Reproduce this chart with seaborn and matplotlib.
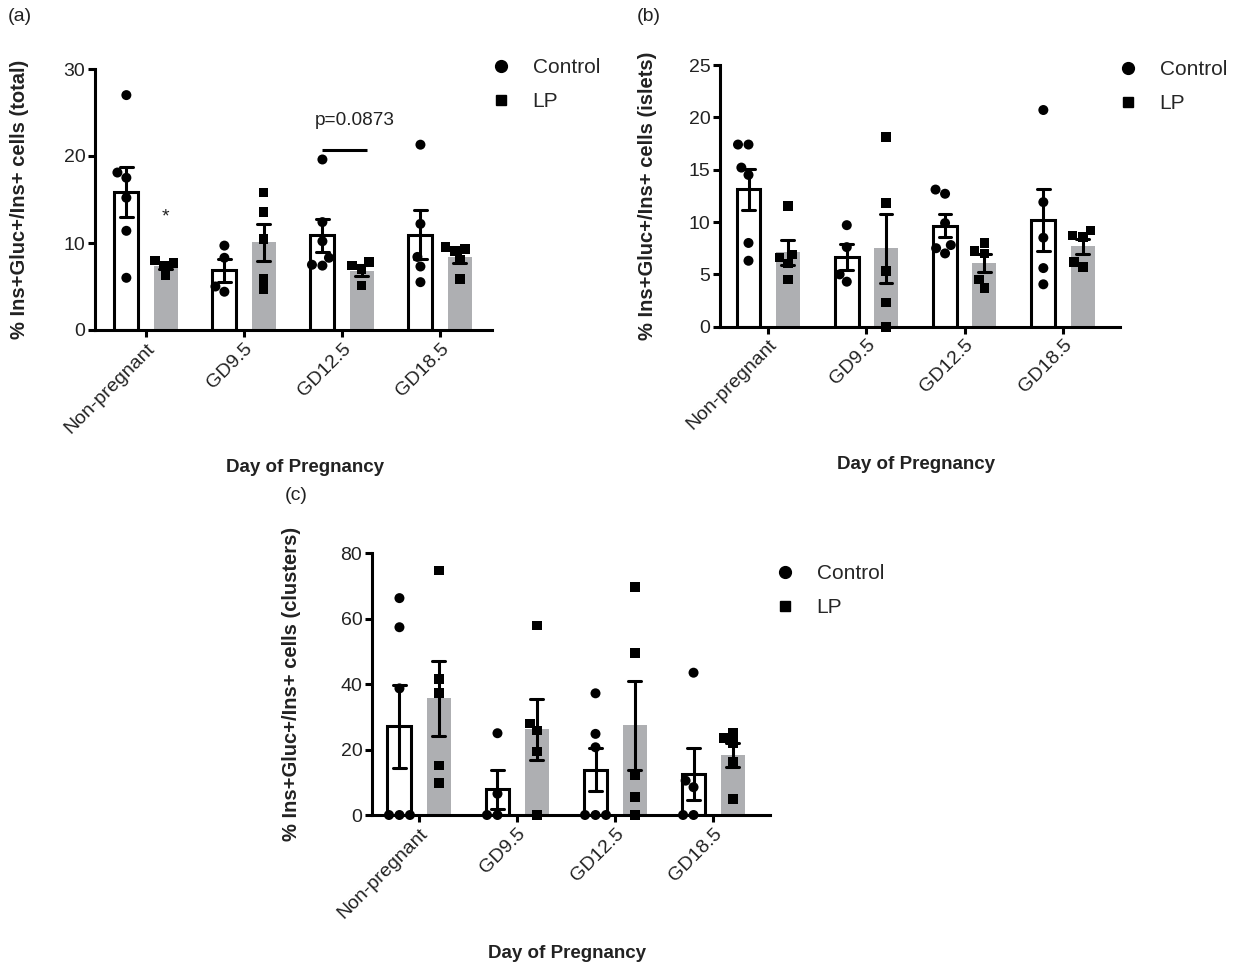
import warnings

import numpy as np
import pandas as pd
import matplotlib
matplotlib.use("Agg")
import matplotlib.pyplot as plt
from matplotlib.lines import Line2D
import seaborn as sns

warnings.filterwarnings("ignore")

# Data (one list of points per day)
days = ["Non-pregnant", "GD9.5", "GD12.5", "GD18.5"]
groups = ["Control", "LP"]

total_ctrl = [[27.0, 18.1, 17.5, 15.2, 11.4, 6.0],
              [9.7, 8.3, 5.0, 4.4],
              [19.6, 12.4, 10.2, 8.3, 7.5, 7.4],
              [21.3, 12.2, 8.4, 7.3, 5.5]]
total_lp = [[8.0, 7.7, 7.4, 6.3],
            [15.8, 13.6, 10.5, 5.9, 4.7],
            [7.8, 7.4, 7.0, 5.1],
            [9.5, 9.3, 9.1, 8.1, 5.9]]

islets_ctrl = [[17.4, 17.4, 15.2, 14.5, 8.0, 6.3],
               [9.7, 7.6, 5.0, 4.3],
               [13.1, 12.7, 9.9, 7.8, 7.5, 7.0],
               [20.7, 11.9, 8.5, 5.6, 4.05]]
islets_lp = [[11.5, 6.9, 6.6, 6.05, 4.5],
             [18.1, 11.8, 5.3, 2.3, 0.0],
             [8.0, 7.2, 7.0, 4.5, 3.7],
             [9.2, 8.7, 8.6, 6.2, 5.7]]

clusters_ctrl = [[66.3, 57.4, 38.7, 0.0, 0.0, 0.0],
                 [25.0, 6.5, 0.0, 0.0],
                 [37.2, 24.8, 20.7, 0.0, 0.0, 0.0],
                 [43.5, 10.5, 8.5, 0.0, 0.0]]
clusters_lp = [[74.7, 41.5, 37.2, 15.1, 9.7],
               [57.9, 28.0, 25.8, 19.4, 0.0],
               [69.6, 49.6, 12.2, 5.4, 0.0],
               [25.0, 23.5, 22.0, 16.3, 4.9]]

ylabels = ["% Ins+Gluc+/Ins+ cells (total)",
           "% Ins+Gluc+/Ins+ cells (islets)",
           "% Ins+Gluc+/Ins+ cells (clusters)"]
yticks_a = [0, 10, 20, 30]
yticks_b = [0, 5, 10, 15, 20, 25]
yticks_c = [0, 20, 40, 60, 80]

grey = "#aeafb2"
lw = 2.2

sns.set_style("ticks")
plt.rcParams["font.family"] = ["Liberation Sans", "DejaVu Sans"]


def long_df(ctrl, lp):
    rows = []
    for g, vals in zip(groups, [ctrl, lp]):
        for d, pts in zip(days, vals):
            for v in pts:
                rows.append({"day": d, "group": g, "value": v})
    return pd.DataFrame(rows)


def draw_panel(ax, df, yticks, ylabel, xlim, xlab_x, ylab_x):
    sns.barplot(data=df, x="day", y="value", hue="group", order=days,
                hue_order=groups, palette={"Control": "white", "LP": grey},
                saturation=1, errorbar="se", capsize=0.26, gap=0.39,
                err_kws={"color": "black", "linewidth": lw},
                legend=False, ax=ax)
    for bar in ax.containers[0]:
        bar.set_edgecolor("black")
        bar.set_linewidth(lw)
    for bar in ax.containers[1]:
        bar.set_edgecolor("none")

    # points: circles for Control, squares for LP
    sns.swarmplot(data=df[df.group == "Control"], x="day", y="value",
                  hue="group", order=days, hue_order=groups, dodge=True,
                  palette={"Control": "black", "LP": "black"}, size=7.2,
                  marker="o", linewidth=0, legend=False, clip_on=False,
                  zorder=3, ax=ax)
    sns.swarmplot(data=df[df.group == "LP"], x="day", y="value",
                  hue="group", order=days, hue_order=groups, dodge=True,
                  palette={"Control": "black", "LP": "black"}, size=7.0,
                  marker="s", linewidth=0, legend=False, clip_on=False,
                  zorder=3, ax=ax)

    ax.set_xlim(*xlim)
    ax.set_ylim(yticks[0], yticks[-1])
    ax.set_yticks(yticks)
    sns.despine(ax=ax)
    for side in ["left", "bottom"]:
        ax.spines[side].set_linewidth(lw)
        ax.spines[side].set_color("black")
    ax.spines["left"].set_bounds(yticks[0], yticks[-1])
    ax.tick_params(axis="both", width=lw, length=5, color="black",
                   labelsize=14, labelcolor="#222222", pad=2)
    plt.setp(ax.get_xticklabels(), rotation=45, ha="right", va="top",
             rotation_mode="anchor")
    ax.set_xlabel("Day of Pregnancy", fontsize=13.5, fontweight="bold",
                  color="#222222")
    ax.xaxis.set_label_coords(xlab_x, -0.495)
    ax.set_ylabel(ylabel, fontsize=14.5, fontweight="bold", color="#222222")
    ax.yaxis.set_label_coords(ylab_x, 0.5)


def add_legend(ax, fig, x_px, y_px):
    handles = [Line2D([], [], marker="o", color="black", linestyle="",
                      markersize=8.5),
               Line2D([], [], marker="s", color="black", linestyle="",
                      markersize=7.5)]
    ax.legend(handles, groups, loc="upper left",
              bbox_to_anchor=(x_px / 1236, 1 - y_px / 966),
              bbox_transform=fig.transFigure, frameon=False, fontsize=15,
              borderpad=0, borderaxespad=0, handlelength=1.0,
              handletextpad=1.0, labelspacing=0.74)


fig = plt.figure(figsize=(12.36, 9.66), dpi=100)

ax_a = fig.add_axes([95 / 1236, 1 - 330 / 966, 397 / 1236, 261 / 966])
ax_b = fig.add_axes([720 / 1236, 1 - 326.7 / 966, 400 / 1236, 261.7 / 966])
ax_c = fig.add_axes([372 / 1236, 1 - 815 / 966, 398 / 1236, 261.7 / 966])

draw_panel(ax_a, long_df(total_ctrl, total_lp), yticks_a, ylabels[0],
           (-0.52, 3.53), 0.53, -0.166)
draw_panel(ax_b, long_df(islets_ctrl, islets_lp), yticks_b, ylabels[1],
           (-0.49, 3.58), 0.49, -0.158)
draw_panel(ax_c, long_df(clusters_ctrl, clusters_lp), yticks_c, ylabels[2],
           (-0.48, 3.58), 0.49, -0.178)

add_legend(ax_a, fig, 491, 58)
add_legend(ax_b, fig, 1118, 60)
add_legend(ax_c, fig, 775, 564)

# significance marks on panel (a)
ax_a.text(0.2, 13.0, "*", ha="center", va="center", fontsize=14,
          color="#222222")
ax_a.plot([1.8, 2.25], [20.7, 20.7], color="black", linewidth=lw,
          solid_capstyle="butt")
ax_a.text(2.13, 24.1, "p=0.0873", ha="center", va="center", fontsize=13.7,
          color="#222222")

fig.text(8 / 1236, 1 - 8 / 966, "(a)", ha="left", va="top", fontsize=14,
         color="#222222")
fig.text(637 / 1236, 1 - 8 / 966, "(b)", ha="left", va="top", fontsize=14,
         color="#222222")
fig.text(285 / 1236, 1 - 487 / 966, "(c)", ha="left", va="top", fontsize=14,
         color="#222222")

fig.savefig("out.png", dpi=100)
